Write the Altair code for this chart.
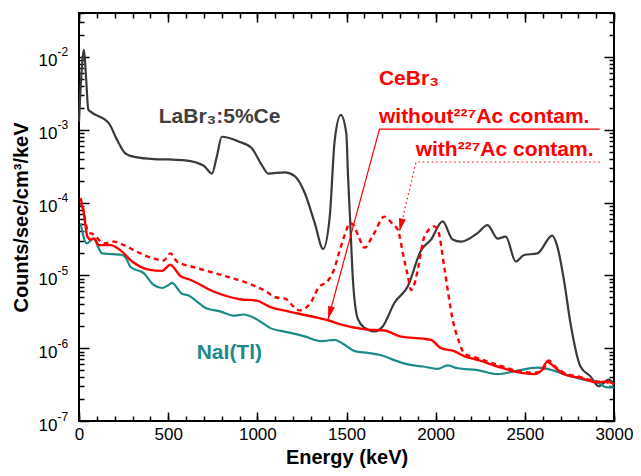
import altair as alt
import pandas as pd

# ---------------- data ----------------
labr_e = [0, 12, 28, 40, 52, 65, 168, 214, 261, 317, 420, 503, 596, 700, 745, 773, 801, 894, 968, 1024,
          1061, 1155, 1210, 1266, 1322, 1369, 1406, 1434, 1468, 1499, 1508, 1520, 1536, 1564, 1602, 1657,
          1704, 1769, 1844, 1918, 1974, 2039, 2095, 2142, 2235, 2291, 2347, 2393, 2449, 2496, 2570, 2654,
          2682, 2719, 2756, 2812, 2868, 2914, 2970, 3000]
labr_v = [1.3e-3, 5e-3, 1.25e-2, 5e-3, 1.9e-3, 1.77e-3, 1.22e-3, 7.2e-4, 4.7e-4, 4.2e-4, 3.95e-4, 3.9e-4,
          3.8e-4, 3.2e-4, 2.5e-4, 4.3e-4, 8e-4, 6.9e-4, 5.6e-4, 3.3e-4,
          2.5e-4, 2.6e-4, 2.3e-4, 1.35e-4, 5.2e-5, 2.3e-5, 6.4e-5, 7.2e-4, 1.6e-3, 8.9e-4, 2.5e-4, 6e-5,
          8.7e-6, 2.5e-6, 1.9e-6, 1.7e-6,
          2.0e-6, 4.2e-6, 7.1e-6, 2.2e-5, 3.1e-5, 5.5e-5, 3.1e-5, 2.9e-5, 3.8e-5, 4.9e-5, 3.2e-5, 3.4e-5,
          1.55e-5, 1.9e-5, 2.0e-5, 3.5e-5,
          2.5e-5, 8.7e-6, 2.2e-6, 5.6e-7, 4.1e-7, 3.0e-7, 3.7e-7, 3.2e-7]

nai_e = [9, 43, 80, 130, 190, 242, 265, 289, 363, 419, 465, 500, 521, 577, 615, 660, 717, 792, 866, 922,
         996, 1071, 1173, 1266, 1359, 1434, 1480, 1546, 1620, 1695, 1770, 1844, 1930, 2011, 2067, 2123,
         2235, 2347, 2440, 2570, 2626, 2719, 2831, 2905, 2961, 3000]
nai_v = [5.2e-5, 2.75e-5, 3.2e-5, 2.0e-5, 1.95e-5, 1.9e-5, 1.7e-5, 1.3e-5, 1.07e-5, 7.4e-6, 6.7e-6, 7.3e-6,
         7.9e-6, 5.6e-6, 5.3e-6, 4.4e-6, 3.5e-6, 3.2e-6, 2.8e-6, 2.9e-6,
         2.5e-6, 1.9e-6, 1.65e-6, 1.45e-6, 1.25e-6, 1.3e-6, 1.15e-6, 9.1e-7, 8.6e-7, 8.0e-7, 6.8e-7, 6.0e-7,
         5.6e-7, 5.2e-7, 5.8e-7, 5.3e-7,
         5.0e-7, 4.4e-7, 4.8e-7, 5.4e-7, 5.2e-7, 4.4e-7, 3.7e-7, 3.4e-7, 2.9e-7, 2.9e-7]

ce_e = [9, 24, 47, 65, 84, 112, 177, 233, 298, 391, 465, 512, 568, 624, 754, 903, 996, 1070, 1173, 1341,
        1400, 1471, 1620, 1713, 1806, 1930, 1974, 2030, 2104, 2160, 2235, 2347, 2440, 2551, 2589, 2626,
        2663, 2719, 2812, 2905, 2961, 3000]
ce_v = [9.8e-5, 7.9e-5, 3.4e-5, 3.1e-5, 3.2e-5, 2.6e-5, 2.6e-5, 2.2e-5, 1.55e-5, 1.2e-5, 1.15e-5, 1.4e-5,
        9.8e-6, 8.7e-6, 6.0e-6, 4.7e-6, 4.5e-6, 3.7e-6, 3.2e-6, 2.6e-6,
        2.4e-6, 2.1e-6, 1.8e-6, 1.75e-6, 1.44e-6, 1.35e-6, 1.3e-6, 1.0e-6, 9.1e-7, 7.8e-7, 6.9e-7, 5.6e-7,
        4.8e-7, 4.4e-7, 4.8e-7, 6.5e-7,
        5.6e-7, 4.4e-7, 3.9e-7, 3.4e-7, 3.5e-7, 3.2e-7]

ceac_e = [9, 20, 50, 84, 140, 196, 251, 326, 419, 475, 512, 549, 642, 792, 940, 1050, 1100, 1155, 1200,
          1235, 1304, 1341, 1397, 1430, 1462, 1490, 1520, 1536, 1570, 1601, 1650, 1713, 1760, 1788, 1820,
          1844, 1862, 1880, 1900, 1937, 1993, 2015, 2048, 2095, 2132, 2160, 2235, 2347, 2440, 2551, 2600,
          2633, 2663, 2719, 2812, 2905, 2961, 3000]
ceac_v = [1.15e-4, 9e-5, 4e-5, 3.6e-5, 2.75e-5, 2.9e-5, 2.6e-5, 2.1e-5, 1.7e-5, 1.6e-5, 2.0e-5, 1.55e-5,
          1.3e-5, 1.02e-5, 7.9e-6, 6.0e-6, 5.0e-6, 4.8e-6, 3.8e-6,
          3.3e-6, 4.4e-6, 6.7e-6, 8.5e-6, 1.2e-5, 2.2e-5, 3.6e-5, 5.2e-5, 5.0e-5, 3.3e-5, 2.4e-5, 3.6e-5,
          6.4e-5, 5.0e-5, 4.2e-5, 1.8e-5,
          9.8e-6, 6.3e-6, 7.5e-6, 1.2e-5, 3.4e-5, 4.7e-5, 4.0e-5, 1.3e-5, 2.5e-6, 1.2e-6, 8.5e-7, 7.3e-7,
          5.9e-7, 5.0e-7, 4.6e-7, 5.0e-7,
          6.8e-7, 5.8e-7, 4.6e-7, 4.0e-7, 3.5e-7, 3.4e-7, 3.2e-7]

x_major = [0, 500, 1000, 1500, 2000, 2500, 3000]
x_minor = list(range(0, 3001, 100))
y_major = [1e-7, 1e-6, 1e-5, 1e-4, 1e-3, 1e-2]
y_minor = [k * 10.0 ** d for d in range(-7, -1) for k in range(2, 10) if k * 10.0 ** d <= 0.04]

# annotation anchors (energy, value)
lead_solid_e = [2920, 1685, 1397]
lead_solid_v = [1.02e-3, 1.02e-3, 2.5e-6]
lead_dot_e = [2920, 1890, 1797]
lead_dot_v = [3.6e-4, 3.6e-4, 4.0e-5]

FONT = "Liberation Sans"
GRAY = "#3a3a3a"
RED = "#ff0000"
TEAL = "#1a8a8a"


def frame(e, v):
    return pd.DataFrame({"E": e, "V": v, "o": list(range(len(e)))})


labr = frame(labr_e, labr_v)
nai = frame(nai_e, nai_v)
ce = frame(ce_e, ce_v)
ceac = frame(ceac_e, ceac_v)

XS = alt.Scale(domain=[0, 3000], nice=False, zero=False)
YS = alt.Scale(type="log", domain=[1e-7, 0.04], nice=False)


def enc(chart, xaxis=None, yaxis=None):
    return chart.encode(
        x=alt.X("E:Q", scale=XS, axis=xaxis),
        y=alt.Y("V:Q", scale=YS, axis=yaxis),
        order="o:Q",
    )


def tick_axis(orient, values, size):
    return alt.Axis(orient=orient, values=values, labels=False, domain=False, grid=False,
                    ticks=True, tickSize=size, offset=-size, tickColor="black", tickWidth=1.5,
                    title=None)


# label axes
x_lab = alt.Axis(orient="bottom", values=x_major, format="d", ticks=False, tickSize=0, domain=False,
                 grid=False, labelFont=FONT, labelFontSize=17, labelColor="black", labelPadding=5,
                 labelFlush=False, labelOverlap=False, labelBound=False,
                 title="Energy (keV)", titleFont=FONT, titleFontSize=20, titleFontWeight="bold",
                 titleColor="black", titlePadding=5)
y_lab = alt.Axis(orient="left", values=y_major, ticks=False, tickSize=0, domain=False, grid=False,
                 labelExpr="'10'", labelAlign="right", labelBaseline="middle", labelPadding=22,
                 labelOffset=4, labelFont=FONT, labelFontSize=17, labelColor="black", labelOverlap=False,
                 title="Counts/sec/cm³/keV", titleFont=FONT, titleFontSize=20, titleFontWeight="bold",
                 titleColor="black", titlePadding=7)
y_exp = alt.Axis(orient="left", values=y_major, ticks=False, tickSize=0, domain=False, grid=False,
                 labelExpr="'-' + round(-log(datum.value) / LN10)", labelAlign="left",
                 labelBaseline="middle", labelPadding=22, labelOffset=-5, labelFont=FONT, labelFontSize=12,
                 labelColor="black", labelOverlap=False, title=None)

line_labr = enc(alt.Chart(labr).mark_line(color=GRAY, strokeWidth=2.2, interpolate="monotone"),
                x_lab, y_lab)
ghost = alt.Chart(labr).mark_line(strokeOpacity=0)
axes_layers = [
    enc(ghost, None, y_exp),
    enc(ghost, tick_axis("bottom", x_major, 9), tick_axis("left", y_major, 10)),
    enc(ghost, tick_axis("bottom", x_minor, 5), tick_axis("left", y_minor, 5)),
    enc(ghost, tick_axis("top", x_major, 9), tick_axis("right", y_major, 10)),
    enc(ghost, tick_axis("top", x_minor, 5), tick_axis("right", y_minor, 5)),
]

line_nai = enc(alt.Chart(nai).mark_line(color=TEAL, strokeWidth=2.2, interpolate="monotone"))
line_ce = enc(alt.Chart(ce).mark_line(color=RED, strokeWidth=2.4, interpolate="monotone"))
line_ceac = enc(alt.Chart(ceac).mark_line(color=RED, strokeWidth=2.4, strokeDash=[5, 4],
                                          interpolate="monotone"))

lead1 = enc(alt.Chart(frame(lead_solid_e, lead_solid_v)).mark_line(color=RED, strokeWidth=1.2))
lead2 = enc(alt.Chart(frame(lead_dot_e, lead_dot_v)).mark_line(color=RED, strokeWidth=1.2,
                                                                strokeDash=[1.5, 3]))
arrow_path = "M0,0L-0.27,-1L0.27,-1Z"
arrow1 = enc(alt.Chart(frame(lead_solid_e[-1:], lead_solid_v[-1:])).mark_point(
    shape=arrow_path, size=676, filled=True, color=RED, opacity=1, angle=15))
arrow2 = enc(alt.Chart(frame(lead_dot_e[-1:], lead_dot_v[-1:])).mark_point(
    shape=arrow_path, size=676, filled=True, color=RED, opacity=1, angle=13))


def label(text, e, v, color):
    d = pd.DataFrame({"E": [e], "V": [v], "o": [0], "t": [text]})
    return enc(alt.Chart(d).mark_text(font=FONT, fontSize=21, fontWeight="bold", color=color,
                                      align="left", baseline="alphabetic")).encode(text="t:N")


texts = [
    label("LaBr₃:5%Ce", 447, 1.24e-3, "#404040"),
    label("CeBr₃", 1682, 4.1e-3, RED),
    label("without²²⁷Ac contam.", 1682, 1.24e-3, RED),
    label("with²²⁷Ac contam.", 1888, 4.36e-4, RED),
    label("NaI(Tl)", 660, 7.0e-7, TEAL),
]

chart = alt.layer(
    line_labr, *axes_layers, line_nai, line_ce, line_ceac, lead1, lead2, arrow1, arrow2, *texts
).resolve_scale(x="shared", y="shared").resolve_axis(x="independent", y="independent").properties(
    width=535, height=408,
    autosize=alt.AutoSizeParams(type="none"),
    padding={"left": 71, "top": 5, "right": 19, "bottom": 47},
    background="white",
).configure_view(stroke="black", strokeWidth=2)

chart.save("out.html", embed_options={"renderer": "svg", "actions": False})
